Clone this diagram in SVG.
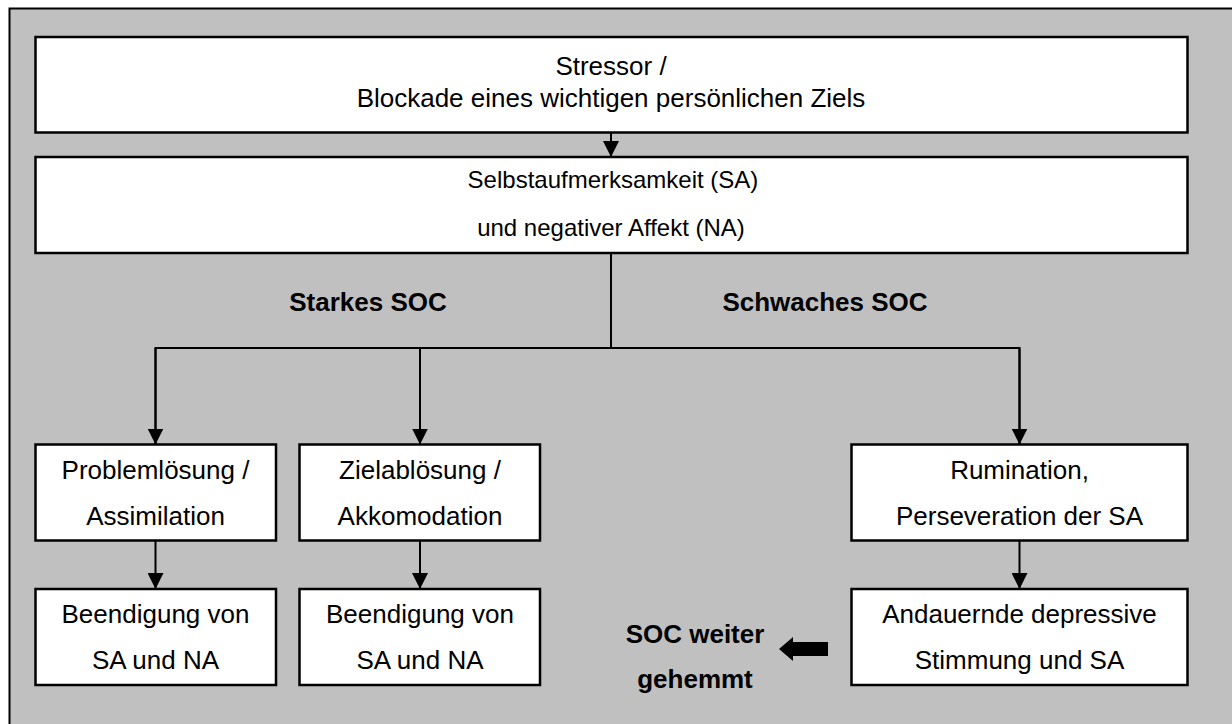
<svg xmlns="http://www.w3.org/2000/svg" width="1232" height="724" viewBox="0 0 1232 724">
<style>
.box{fill:#fff;stroke:#000;stroke-width:2.5}
.t{font-family:"Liberation Sans",Arial,sans-serif;font-size:26px;fill:#000;text-anchor:middle}
.s{font-size:24px}
.b{font-family:"Liberation Sans",Arial,sans-serif;font-size:26px;font-weight:bold;fill:#000;text-anchor:middle}
.c{fill:none;stroke:#000;stroke-width:2}
</style>
<defs>
<marker id="a" markerWidth="16" markerHeight="16" refX="16" refY="8" orient="auto" markerUnits="userSpaceOnUse" viewBox="0 0 16 16">
<path d="M0,0 L16,8 L0,16 Z" fill="#000"/>
</marker>
</defs>
<rect x="0" y="0" width="1232" height="724" fill="#fff"/>
<rect x="9.5" y="8.5" width="1240" height="730" fill="#c0c0c0" stroke="#000" stroke-width="2"/>
<g id="stressor">
<rect class="box" x="35.5" y="37" width="1152" height="95.5"/>
<text class="t" x="611" y="75">Stressor /</text>
<text class="t" x="611" y="107">Blockade eines wichtigen persönlichen Ziels</text>
</g>
<g id="sa-na">
<rect class="box" x="35.5" y="157" width="1152" height="96"/>
<text class="t s" x="613" y="188">Selbstaufmerksamkeit (SA)</text>
<text class="t s" x="611" y="236">und negativer Affekt (NA)</text>
</g>
<g id="label-stark"><text class="b" x="368" y="311">Starkes SOC</text></g>
<g id="label-schwach"><text class="b" x="825" y="311">Schwaches SOC</text></g>
<g id="problem">
<rect class="box" x="35.5" y="444.5" width="240.5" height="96"/>
<text class="t" x="155.5" y="479">Problemlösung /</text>
<text class="t" x="155.5" y="525">Assimilation</text>
</g>
<g id="ziel">
<rect class="box" x="299.5" y="444.5" width="240.5" height="96"/>
<text class="t" x="420" y="479">Zielablösung /</text>
<text class="t" x="420" y="525">Akkomodation</text>
</g>
<g id="rumination">
<rect class="box" x="851.5" y="444.5" width="336" height="96"/>
<text class="t" x="1019.5" y="479">Rumination,</text>
<text class="t" x="1019.5" y="525">Perseveration der SA</text>
</g>
<g id="beend1">
<rect class="box" x="35.5" y="589" width="240.5" height="96"/>
<text class="t" x="155.5" y="623">Beendigung von</text>
<text class="t" x="155.5" y="669">SA und NA</text>
</g>
<g id="beend2">
<rect class="box" x="299.5" y="589" width="240.5" height="96"/>
<text class="t" x="420" y="623">Beendigung von</text>
<text class="t" x="420" y="669">SA und NA</text>
</g>
<g id="depressiv">
<rect class="box" x="851.5" y="589" width="336" height="96"/>
<text class="t" x="1019.5" y="623">Andauernde depressive</text>
<text class="t" x="1019.5" y="669">Stimmung und SA</text>
</g>
<g id="gehemmt">
<text class="b" x="695" y="643">SOC weiter</text>
<text class="b" x="695" y="688">gehemmt</text>
</g>
<g id="connectors">
<line class="c" x1="611" y1="132.5" x2="611" y2="157" marker-end="url(#a)"/>
<line class="c" x1="611" y1="253" x2="611" y2="349"/>
<polyline class="c" points="155.5,444.5 155.5,348 1019.5,348 1019.5,444.5"/>
<line class="c" x1="155.5" y1="348" x2="155.5" y2="444.5" marker-end="url(#a)"/>
<line class="c" x1="420" y1="348" x2="420" y2="444.5" marker-end="url(#a)"/>
<line class="c" x1="1019.5" y1="348" x2="1019.5" y2="444.5" marker-end="url(#a)"/>
<line class="c" x1="155.5" y1="540.5" x2="155.5" y2="589" marker-end="url(#a)"/>
<line class="c" x1="420" y1="540.5" x2="420" y2="589" marker-end="url(#a)"/>
<line class="c" x1="1019.5" y1="540.5" x2="1019.5" y2="589" marker-end="url(#a)"/>
<path d="M828,642 L793,642 L793,637 L779,649 L793,661 L793,656 L828,656 Z" fill="#000"/>
</g>
</svg>
